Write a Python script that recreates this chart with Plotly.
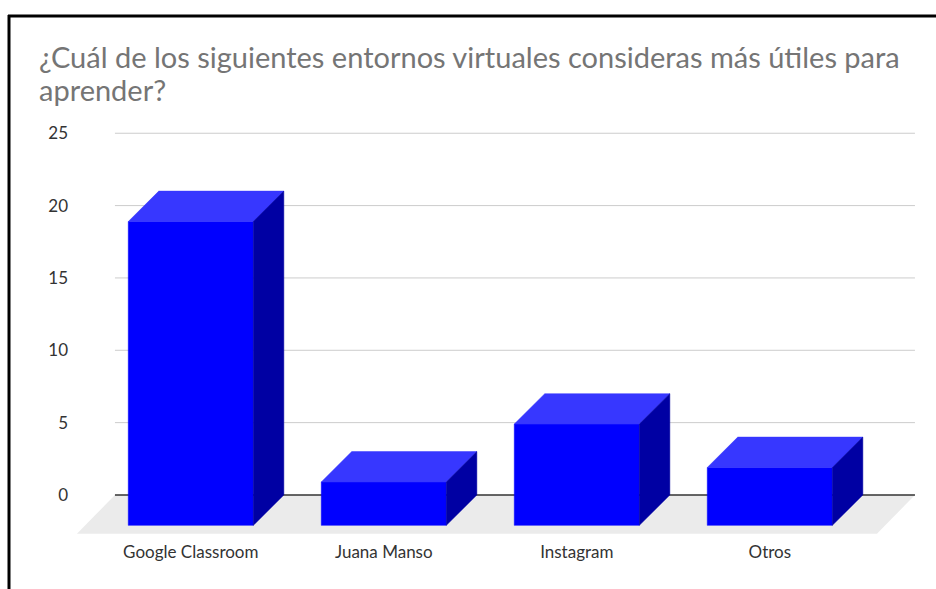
import plotly.graph_objects as go

# ---- data ----
categories = ["Google Classroom", "Juana Manso", "Instagram", "Otros"]
values = [21, 3, 7, 4]
y_ticks = [0, 5, 10, 15, 20, 25]
title_lines = ["¿Cuál de los siguientes entornos virtuales consideras más útiles para", "aprender?"]

# ---- geometry of the pseudo-3D look (in data units) ----
BAR_W = 0.648       # front-face width, category units
DX = 0.158          # depth offset, x (category units)
DY = 2.10           # depth offset, y (value units)
FLOOR_DX = 0.197
FLOOR_DY = 2.68
BACK_LEFT = -0.393
BACK_RIGHT = 3.752

C_FRONT = "#0000FF"
C_TOP = "#3737FF"
C_SIDE = "#0000A3"
C_FLOOR = "#EBEBEB"
C_GRID = "#CCCCCC"
C_ZERO = "#333333"

fig = go.Figure()

# gridlines on the back wall
gx, gy = [], []
for t in y_ticks:
    if t == 0:
        continue
    gx += [BACK_LEFT, BACK_RIGHT, None]
    gy += [t, t, None]
fig.add_trace(go.Scatter(x=gx, y=gy, mode="lines", line=dict(color=C_GRID, width=1),
                         hoverinfo="skip", showlegend=False))

# floor
fig.add_trace(go.Scatter(
    x=[BACK_LEFT, BACK_RIGHT, BACK_RIGHT - FLOOR_DX, BACK_LEFT - FLOOR_DX, BACK_LEFT],
    y=[0, 0, -FLOOR_DY, -FLOOR_DY, 0],
    mode="lines", fill="toself", fillcolor=C_FLOOR, line=dict(width=0, color=C_FLOOR),
    hoverinfo="skip", showlegend=False))

# zero line
fig.add_trace(go.Scatter(x=[BACK_LEFT, BACK_RIGHT], y=[0, 0], mode="lines",
                         line=dict(color=C_ZERO, width=1.5), hoverinfo="skip", showlegend=False))

fx, fy, tx, ty, sx, sy = [], [], [], [], [], []
for i, v in enumerate(values):
    l, r = i - BAR_W / 2, i + BAR_W / 2
    fx += [l, r, r, l, l, None]
    fy += [-DY, -DY, v - DY, v - DY, -DY, None]
    tx += [l, r, r + DX, l + DX, l, None]
    ty += [v - DY, v - DY, v, v, v - DY, None]
    sx += [r, r + DX, r + DX, r, r, None]
    sy += [-DY, 0, v, v - DY, -DY, None]

for xs, ys, col in [(fx, fy, C_FRONT), (tx, ty, C_TOP), (sx, sy, C_SIDE)]:
    fig.add_trace(go.Scatter(x=xs, y=ys, mode="lines", fill="toself", fillcolor=col,
                             line=dict(width=0.5, color=col), hoverinfo="skip",
                             showlegend=False))

W, H = 936, 589
x_left_px, x_right_px = 75, 916.5
y_top_px, y_bot_px = 123.5, 536.5

title_centers_px = [52, 85]
annotations = [
    dict(text=txt, x=37 / W, xanchor="left", xref="paper",
         y=1 - cy / H, yanchor="middle", yref="paper", showarrow=False,
         font=dict(family="Lato", size=29, color="#757575"))
    for txt, cy in zip(title_lines, title_centers_px)
]

fig.update_layout(
    width=W, height=H,
    margin=dict(l=0, r=0, t=0, b=0),
    paper_bgcolor="white", plot_bgcolor="white",
    annotations=annotations,
    xaxis=dict(domain=[x_left_px / W, x_right_px / W], range=[-0.6, 3.76],
               tickmode="array", tickvals=list(range(len(categories))), ticktext=categories,
               showgrid=False, zeroline=False, showline=False, ticks="",
               tickfont=dict(family="Lato", size=17, color="#333333"),
               ticklabelstandoff=3, fixedrange=True),
    yaxis=dict(domain=[1 - y_bot_px / H, 1 - y_top_px / H], range=[-2.9, 25.4],
               tickmode="array", tickvals=y_ticks, ticktext=[str(t) for t in y_ticks],
               showgrid=False, zeroline=False, showline=False, ticks="",
               tickfont=dict(family="Lato", size=17, color="#333333"),
               ticklabelstandoff=6, fixedrange=True),
    font=dict(family="Lato"),
    shapes=[
        dict(type="line", xref="paper", yref="paper", x0=9 / W, x1=9 / W, y0=0, y1=1 - 10 / H,
             line=dict(color="black", width=3)),
        dict(type="line", xref="paper", yref="paper", x0=8 / W, x1=1, y0=1 - 11 / H, y1=1 - 11 / H,
             line=dict(color="black", width=3)),
    ],
)

fig.write_html("out.html")
